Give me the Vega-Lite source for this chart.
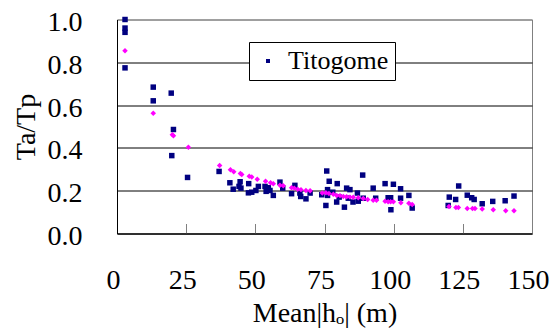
{
  "$schema": "https://vega.github.io/schema/vega-lite/v6.json",
  "autosize": {"type": "none"},
  "padding": {"left": 117, "top": 19.5, "right": 25, "bottom": 95.5},
  "width": 415,
  "height": 214,
  "background": "white",
  "config": {
    "view": {"stroke": "#808080", "strokeWidth": 1},
    "axis": {
      "labelFont": "Liberation Serif",
      "labelFontSize": 28,
      "labelColor": "#000",
      "titleFont": "Liberation Serif",
      "titleFontSize": 28,
      "titleFontWeight": "normal",
      "titleColor": "#000",
      "domainColor": "#000",
      "domainWidth": 1
    },
    "legend": {
      "labelFont": "Liberation Serif",
      "labelFontSize": 26,
      "labelColor": "#000"
    }
  },
  "data": {
    "values": [
      {"x": 2.9, "y": 1.0, "s": "Titogome"},
      {"x": 2.9, "y": 0.96, "s": "Titogome"},
      {"x": 2.9, "y": 0.94, "s": "Titogome"},
      {"x": 2.9, "y": 0.774, "s": "Titogome"},
      {"x": 13.1, "y": 0.684, "s": "Titogome"},
      {"x": 19.6, "y": 0.656, "s": "Titogome"},
      {"x": 13.1, "y": 0.62, "s": "Titogome"},
      {"x": 20.4, "y": 0.486, "s": "Titogome"},
      {"x": 19.8, "y": 0.364, "s": "Titogome"},
      {"x": 25.5, "y": 0.262, "s": "Titogome"},
      {"x": 36.9, "y": 0.29, "s": "Titogome"},
      {"x": 40.8, "y": 0.237, "s": "Titogome"},
      {"x": 42.0, "y": 0.207, "s": "Titogome"},
      {"x": 44.5, "y": 0.242, "s": "Titogome"},
      {"x": 44.1, "y": 0.22, "s": "Titogome"},
      {"x": 44.8, "y": 0.212, "s": "Titogome"},
      {"x": 47.6, "y": 0.233, "s": "Titogome"},
      {"x": 47.5, "y": 0.19, "s": "Titogome"},
      {"x": 48.7, "y": 0.193, "s": "Titogome"},
      {"x": 50.2, "y": 0.201, "s": "Titogome"},
      {"x": 51.1, "y": 0.22, "s": "Titogome"},
      {"x": 53.5, "y": 0.22, "s": "Titogome"},
      {"x": 53.9, "y": 0.197, "s": "Titogome"},
      {"x": 54.7, "y": 0.214, "s": "Titogome"},
      {"x": 55.3, "y": 0.201, "s": "Titogome"},
      {"x": 56.5, "y": 0.178, "s": "Titogome"},
      {"x": 58.9, "y": 0.24, "s": "Titogome"},
      {"x": 59.9, "y": 0.212, "s": "Titogome"},
      {"x": 64.3, "y": 0.225, "s": "Titogome"},
      {"x": 63.1, "y": 0.186, "s": "Titogome"},
      {"x": 66.1, "y": 0.189, "s": "Titogome"},
      {"x": 66.4, "y": 0.173, "s": "Titogome"},
      {"x": 68.3, "y": 0.162, "s": "Titogome"},
      {"x": 69.8, "y": 0.189, "s": "Titogome"},
      {"x": 75.8, "y": 0.292, "s": "Titogome"},
      {"x": 76.7, "y": 0.244, "s": "Titogome"},
      {"x": 79.6, "y": 0.233, "s": "Titogome"},
      {"x": 88.8, "y": 0.273, "s": "Titogome"},
      {"x": 74.0, "y": 0.181, "s": "Titogome"},
      {"x": 76.1, "y": 0.205, "s": "Titogome"},
      {"x": 76.1, "y": 0.178, "s": "Titogome"},
      {"x": 75.5, "y": 0.131, "s": "Titogome"},
      {"x": 78.0, "y": 0.193, "s": "Titogome"},
      {"x": 79.4, "y": 0.147, "s": "Titogome"},
      {"x": 80.3, "y": 0.17, "s": "Titogome"},
      {"x": 82.2, "y": 0.123, "s": "Titogome"},
      {"x": 83.0, "y": 0.212, "s": "Titogome"},
      {"x": 84.2, "y": 0.205, "s": "Titogome"},
      {"x": 83.6, "y": 0.165, "s": "Titogome"},
      {"x": 85.3, "y": 0.147, "s": "Titogome"},
      {"x": 86.9, "y": 0.189, "s": "Titogome"},
      {"x": 87.2, "y": 0.151, "s": "Titogome"},
      {"x": 89.0, "y": 0.165, "s": "Titogome"},
      {"x": 92.6, "y": 0.212, "s": "Titogome"},
      {"x": 93.5, "y": 0.165, "s": "Titogome"},
      {"x": 96.9, "y": 0.233, "s": "Titogome"},
      {"x": 99.9, "y": 0.23, "s": "Titogome"},
      {"x": 102.5, "y": 0.209, "s": "Titogome"},
      {"x": 98.0, "y": 0.167, "s": "Titogome"},
      {"x": 98.9, "y": 0.167, "s": "Titogome"},
      {"x": 102.5, "y": 0.165, "s": "Titogome"},
      {"x": 105.5, "y": 0.178, "s": "Titogome"},
      {"x": 99.0, "y": 0.111, "s": "Titogome"},
      {"x": 106.7, "y": 0.119, "s": "Titogome"},
      {"x": 120.1, "y": 0.17, "s": "Titogome"},
      {"x": 119.7, "y": 0.131, "s": "Titogome"},
      {"x": 122.4, "y": 0.159, "s": "Titogome"},
      {"x": 123.5, "y": 0.222, "s": "Titogome"},
      {"x": 126.6, "y": 0.179, "s": "Titogome"},
      {"x": 128.2, "y": 0.167, "s": "Titogome"},
      {"x": 129.1, "y": 0.159, "s": "Titogome"},
      {"x": 132.0, "y": 0.139, "s": "Titogome"},
      {"x": 135.8, "y": 0.15, "s": "Titogome"},
      {"x": 140.3, "y": 0.153, "s": "Titogome"},
      {"x": 143.5, "y": 0.175, "s": "Titogome"},
      {"x": 2.9, "y": 0.854, "s": "fit"},
      {"x": 13.1, "y": 0.562, "s": "fit"},
      {"x": 20.0, "y": 0.462, "s": "fit"},
      {"x": 20.4, "y": 0.457, "s": "fit"},
      {"x": 25.8, "y": 0.403, "s": "fit"},
      {"x": 37.1, "y": 0.318, "s": "fit"},
      {"x": 41.0, "y": 0.298, "s": "fit"},
      {"x": 42.2, "y": 0.289, "s": "fit"},
      {"x": 44.6, "y": 0.28, "s": "fit"},
      {"x": 45.1, "y": 0.276, "s": "fit"},
      {"x": 47.8, "y": 0.267, "s": "fit"},
      {"x": 48.7, "y": 0.264, "s": "fit"},
      {"x": 50.7, "y": 0.254, "s": "fit"},
      {"x": 53.7, "y": 0.244, "s": "fit"},
      {"x": 55.5, "y": 0.237, "s": "fit"},
      {"x": 56.5, "y": 0.233, "s": "fit"},
      {"x": 58.9, "y": 0.226, "s": "fit"},
      {"x": 60.1, "y": 0.223, "s": "fit"},
      {"x": 63.1, "y": 0.214, "s": "fit"},
      {"x": 64.1, "y": 0.212, "s": "fit"},
      {"x": 65.3, "y": 0.207, "s": "fit"},
      {"x": 66.5, "y": 0.205, "s": "fit"},
      {"x": 68.3, "y": 0.201, "s": "fit"},
      {"x": 69.8, "y": 0.2, "s": "fit"},
      {"x": 74.2, "y": 0.189, "s": "fit"},
      {"x": 75.5, "y": 0.19, "s": "fit"},
      {"x": 76.6, "y": 0.187, "s": "fit"},
      {"x": 78.2, "y": 0.183, "s": "fit"},
      {"x": 79.4, "y": 0.178, "s": "fit"},
      {"x": 80.6, "y": 0.177, "s": "fit"},
      {"x": 81.8, "y": 0.173, "s": "fit"},
      {"x": 83.0, "y": 0.172, "s": "fit"},
      {"x": 84.2, "y": 0.17, "s": "fit"},
      {"x": 85.4, "y": 0.169, "s": "fit"},
      {"x": 87.2, "y": 0.167, "s": "fit"},
      {"x": 89.0, "y": 0.164, "s": "fit"},
      {"x": 90.6, "y": 0.159, "s": "fit"},
      {"x": 92.6, "y": 0.155, "s": "fit"},
      {"x": 93.8, "y": 0.155, "s": "fit"},
      {"x": 96.9, "y": 0.151, "s": "fit"},
      {"x": 98.0, "y": 0.148, "s": "fit"},
      {"x": 98.9, "y": 0.148, "s": "fit"},
      {"x": 99.9, "y": 0.148, "s": "fit"},
      {"x": 102.6, "y": 0.144, "s": "fit"},
      {"x": 105.5, "y": 0.141, "s": "fit"},
      {"x": 106.7, "y": 0.136, "s": "fit"},
      {"x": 120.0, "y": 0.126, "s": "fit"},
      {"x": 122.5, "y": 0.122, "s": "fit"},
      {"x": 123.4, "y": 0.122, "s": "fit"},
      {"x": 126.6, "y": 0.117, "s": "fit"},
      {"x": 128.5, "y": 0.117, "s": "fit"},
      {"x": 129.4, "y": 0.117, "s": "fit"},
      {"x": 132.0, "y": 0.114, "s": "fit"},
      {"x": 136.0, "y": 0.111, "s": "fit"},
      {"x": 140.5, "y": 0.106, "s": "fit"},
      {"x": 143.5, "y": 0.106, "s": "fit"}
    ]
  },
  "encoding": {
    "x": {
      "field": "x",
      "type": "quantitative",
      "scale": {"domain": [0, 150], "nice": false},
      "axis": {
        "values": [0, 25, 50, 75, 100, 125, 150],
        "grid": false,
        "labelFont": "Liberation Serif",
        "labelFontSize": 28,
        "labelColor": "#000",
        "labelFlush": false,
        "labelOverlap": false,
        "labelOffset": -4,
        "tickColor": "#808080",
        "tickSize": -10,
        "labelPadding": 43,
        "title": "Mean|hₒ| (m)",
        "titlePadding": 5
      }
    },
    "y": {
      "field": "y",
      "type": "quantitative",
      "scale": {"domain": [0, 1], "nice": false},
      "axis": {
        "values": [0, 0.2, 0.4, 0.6, 0.8, 1.0],
        "format": ".1f",
        "labelFont": "Liberation Serif",
        "labelFontSize": 28,
        "labelColor": "#000",
        "labelFlush": false,
        "labelOverlap": false,
        "grid": true,
        "gridColor": {"condition": {"test": "datum.value >= 0.99", "value": "#808080"}, "value": "#000"},
        "gridWidth": 1,
        "ticks": false,
        "labelPadding": 35,
        "labelOffset": 3,
        "title": "Ta/Tp",
        "titlePadding": 7
      }
    }
  },
  "layer": [
    {
      "transform": [{"filter": "datum.s === 'Titogome'"}],
      "mark": {"type": "point", "shape": "square", "filled": true, "size": 30, "opacity": 1},
      "encoding": {
        "color": {
          "field": "s",
          "type": "nominal",
          "scale": {"domain": ["Titogome"], "range": ["#000080"]},
          "legend": {
            "title": null,
            "orient": "none",
            "legendX": 132,
            "legendY": 22.5,
            "strokeColor": "#000",
            "fillColor": "#fff",
            "padding": 6,
            "labelFont": "Liberation Serif",
            "labelFontSize": 26,
            "labelColor": "#000",
            "symbolType": "square",
            "symbolSize": 16,
            "symbolOffset": 0,
            "symbolStrokeWidth": 0,
            "labelOffset": 7
          }
        }
      }
    },
    {
      "transform": [{"filter": "datum.s === 'fit'"}],
      "mark": {"type": "point", "shape": "diamond", "filled": true, "size": 30, "opacity": 1, "color": "#FF00FF"}
    }
  ]
}
